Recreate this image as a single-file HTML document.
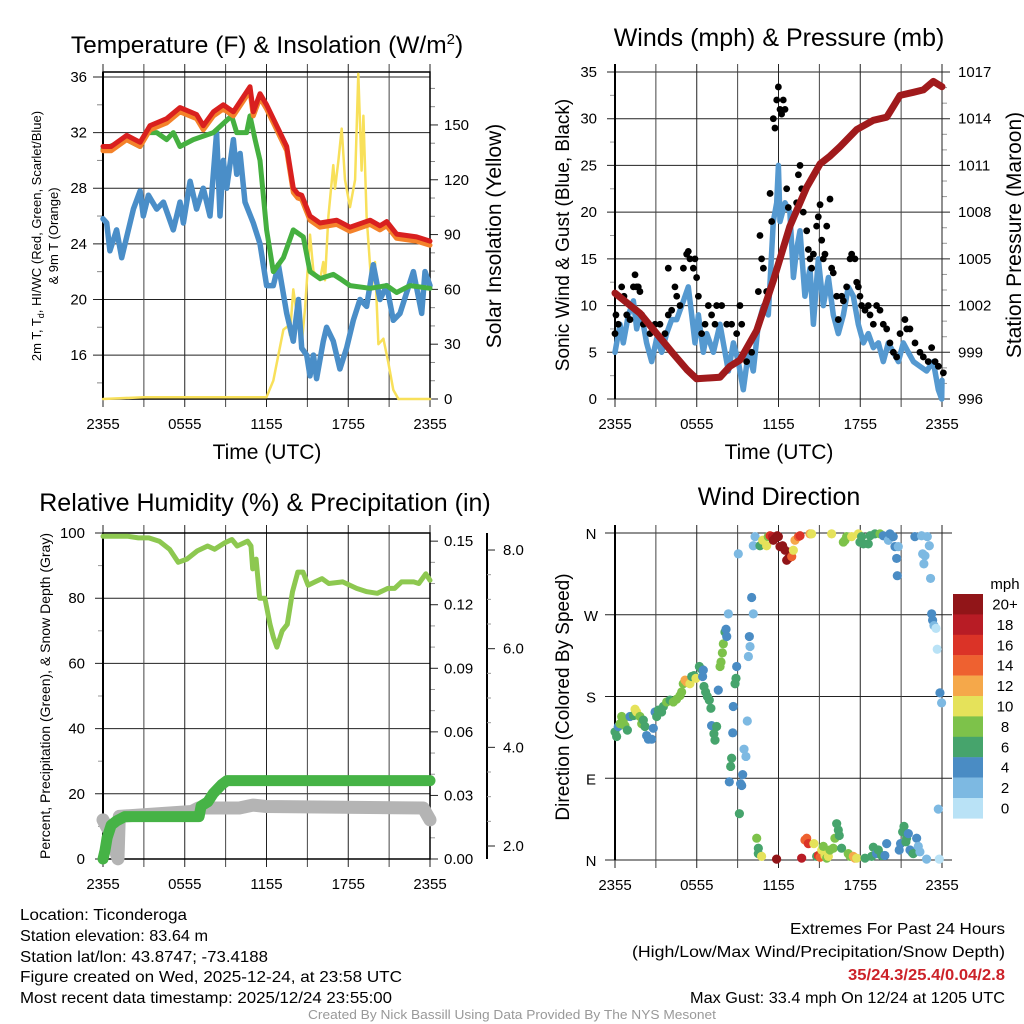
<!DOCTYPE html>
<html><head><meta charset="utf-8"><style>
body{margin:0;background:#fff}
svg{display:block;font-family:"Liberation Sans",Arial,sans-serif}
</style></head><body>
<svg id="c" width="1024" height="1024" viewBox="0 0 1024 1024" xmlns="http://www.w3.org/2000/svg">
<rect width="1024" height="1024" fill="#fff"/>
<!-- titles -->
<text x="267" y="53" font-size="24.5" text-anchor="middle">Temperature (F) &amp; Insolation (W/m<tspan dy="-9" font-size="15">2</tspan><tspan dy="9">)</tspan></text>
<text x="779" y="46" font-size="25" text-anchor="middle">Winds (mph) &amp; Pressure (mb)</text>
<text x="265" y="511" font-size="25" text-anchor="middle">Relative Humidity (%) &amp; Precipitation (in)</text>
<text x="779" y="505" font-size="25" text-anchor="middle">Wind Direction</text>
<!-- axis titles -->
<text x="267" y="459" font-size="21" text-anchor="middle">Time (UTC)</text>
<text x="779" y="459" font-size="21" text-anchor="middle">Time (UTC)</text>
<text transform="translate(41,236) rotate(-90)" font-size="13" text-anchor="middle">2m T, T<tspan dy="3" font-size="9">d</tspan><tspan dy="-3">, HI/WC (Red, Green, Scarlet/Blue)</tspan></text>
<text transform="translate(58,236) rotate(-90)" font-size="13" text-anchor="middle">&amp; 9m T (Orange)</text>
<text transform="translate(501,236) rotate(-90)" font-size="21" text-anchor="middle">Solar Insolation (Yellow)</text>
<text transform="translate(569,235) rotate(-90)" font-size="19" text-anchor="middle">Sonic Wind &amp; Gust (Blue, Black)</text>
<text transform="translate(1021,235) rotate(-90)" font-size="21" text-anchor="middle">Station Pressure (Maroon)</text>
<text transform="translate(50,696) rotate(-90)" font-size="14" text-anchor="middle">Percent, Precipitation (Green), &amp; Snow Depth (Gray)</text>
<text transform="translate(569,697) rotate(-90)" font-size="19" text-anchor="middle">Direction (Colored By Speed)</text>
<!-- footer -->
<g font-size="16">
<text x="20" y="920" textLength="167" lengthAdjust="spacingAndGlyphs">Location: Ticonderoga</text>
<text x="20" y="941" textLength="188" lengthAdjust="spacingAndGlyphs">Station elevation: 83.64 m</text>
<text x="20" y="962" textLength="248" lengthAdjust="spacingAndGlyphs">Station lat/lon: 43.8747; -73.4188</text>
<text x="20" y="982" textLength="382" lengthAdjust="spacingAndGlyphs">Figure created on Wed, 2025-12-24, at 23:58 UTC</text>
<text x="20" y="1003" textLength="372" lengthAdjust="spacingAndGlyphs">Most recent data timestamp: 2025/12/24 23:55:00</text>
</g>
<g font-size="16">
<text x="790" y="934" textLength="215" lengthAdjust="spacingAndGlyphs">Extremes For Past 24 Hours</text>
<text x="632" y="957" textLength="373" lengthAdjust="spacingAndGlyphs">(High/Low/Max Wind/Precipitation/Snow Depth)</text>
<text x="848" y="980" textLength="157" lengthAdjust="spacingAndGlyphs" fill="#cc2229" font-weight="bold">35/24.3/25.4/0.04/2.8</text>
<text x="690" y="1003" textLength="315" lengthAdjust="spacingAndGlyphs">Max Gust: 33.4 mph On 12/24 at 1205 UTC</text>
</g>
<text x="308" y="1019" font-size="13" fill="#999" textLength="408" lengthAdjust="spacingAndGlyphs">Created By Nick Bassill Using Data Provided By The NYS Mesonet</text>
<g id="g"></g>
</svg>
<script>
// ---------- Panel 1 data ----------
const timeTicks = ["2355","0555","1155","1755","2355"];
const tempTicks = [16,20,24,28,32,36];
const solarTicks = [0,30,60,90,120,150];
const tempT = [0,0.6,1.74,2.72,3.45,4.67,5.65,6.87,7.36,8.1,8.83,9.57,10.79,11.03,11.52,12.01,12.75,13.48,13.97,14.3,14.58,15.19,15.93,17.15,18.13,19.6,20.33,20.82,21.55,23.02,24];
const tempV = [31,31,31.8,31.3,32.5,33,33.8,33.3,32.5,33.5,34,33.5,35.3,33.5,34.8,34,32.5,31,28,27.6,27.5,26,25.5,25.7,25.2,25.7,25.3,25.6,24.7,24.5,24.2];
const greenT = [0,1.74,2.72,3.2,3.94,4.67,5.16,5.65,6.63,8.1,9.44,9.81,10.54,10.79,11.16,11.52,12.01,12.5,13.24,13.97,14.7,15.19,15.93,16.9,17.39,18.13,19.6,20.82,21.55,22.53,24];
const greenV = [30.8,31.5,31,32,32,31.5,32,31,31.5,32,33.2,32,32,33.2,31.5,30,25,22,23,25,24.5,22,21.5,21.8,21.5,21,20.8,21,20.5,21,20.8];
const dewT = [0,0.27,0.51,1.0,1.37,1.74,2.23,2.72,2.96,3.33,3.94,4.43,5.16,5.65,5.9,6.39,6.87,7.36,7.85,8.34,8.59,8.83,9.08,9.57,9.81,10.06,10.42,11.03,11.52,12.01,12.5,12.87,13.48,13.97,14.34,14.58,14.95,15.19,15.44,15.68,16.17,16.41,16.9,17.39,17.88,18.37,18.86,19.35,19.84,20.33,20.82,21.31,21.8,22.29,22.78,23.39,23.63,24];
const dewV = [25.8,25.5,23.5,25,23,24.5,26.5,27.8,26,27.5,26.5,27,25,27,25.5,28.5,26.5,28,26,32,26,30,28,31.5,29,30.5,27,25.5,24,21,21,22.5,19,17,20,16.5,16,14.5,16,14.3,17,18,17,15,16.5,18.5,20,19.5,22.5,20,21,18.5,19,20.5,22,19,22,21];
const solarT = [0,3,12,12.5,13.24,13.6,13.72,13.97,14.34,14.58,14.83,15.19,15.44,15.93,16.17,16.29,16.54,16.9,17.03,17.27,17.52,17.76,18.13,18.5,18.74,18.98,19.11,19.35,19.72,19.96,20.21,20.58,20.94,21.31,21.68,24];
const solarV = [0,1,1,10,38,40,35,60,40,30,50,90,70,65,75,65,100,128,115,130,148,120,105,120,178,125,155,100,60,75,30,33,20,5,0,0];
// ---------- Panel 2 data ----------
const windTicks = [0,5,10,15,20,25,30,35];
const presTicks = [996,999,1002,1005,1008,1011,1014,1017];
const windT = [0,0.37,0.61,0.98,1.35,1.59,1.83,2.08,2.32,2.69,3.06,3.43,3.79,4.16,4.53,5.02,5.38,5.63,5.87,6.12,6.48,6.73,7.22,7.71,8.07,8.32,8.69,9.05,9.42,9.79,10.15,10.52,10.89,11.25,11.62,11.87,11.99,12.11,12.48,12.84,13.09,13.33,13.58,13.94,14.31,14.56,14.92,15.29,15.66,16.02,16.39,16.76,17.12,17.49,17.86,18.23,18.59,18.96,19.33,19.69,20.06,20.43,20.8,21.16,21.53,21.9,22.38,22.87,23.36,23.73,23.98,24];
const windV = [5,8,6,9,10.5,7.5,9,8,6,4,6.5,5,7,8.5,8.5,10.5,12,9,6,9,5,7,5,8,5,3,6,4,1,5,3,8,10,9,19,21,25,19,21,20,13,16,18,11,14,8,15,10,13,9,7,9,12,11,8,6,7,5.5,6,4,6,5,4,6,5,4,3.5,3,4,1,0,2];
const gustT = [0,0.07,0.24,0.49,0.66,0.86,1.1,1.35,1.47,1.59,1.71,1.83,1.96,2.08,2.57,2.94,3.3,3.67,3.91,3.91,4.16,4.4,4.53,4.77,5.02,5.26,5.38,5.5,5.75,5.87,5.99,6.12,6.36,6.61,6.85,7.09,7.34,7.46,7.83,8.2,8.56,8.93,9.17,9.3,9.66,10.03,10.52,10.64,10.76,10.89,11.13,11.38,11.5,11.62,11.74,11.87,11.99,12.11,12.23,12.35,12.48,12.6,12.72,13.33,13.46,13.58,13.7,13.82,14.07,14.19,14.31,14.43,14.56,14.8,14.92,15.05,15.17,15.29,15.41,15.54,15.78,15.9,16.02,16.27,16.39,16.64,16.76,17.0,17.25,17.37,17.61,17.74,17.86,17.98,18.1,18.35,18.59,18.72,18.96,19.2,19.45,19.69,19.94,20.18,20.43,20.67,20.92,21.28,21.41,21.65,22.02,22.38,22.63,22.99,23.24,23.49,23.73,24.1];
const gustV = [7,9,8,12,11,9,8.5,12,13.3,12,12,11.5,9,8,7,8,8,7,14,9,9.5,12,11,10,14,15.5,15.8,15,14,15,13,11,7,8,10,9,8,10,10,8,8,7,10,8,4,5,11.5,17.5,15,14,11.5,22,19,30,29,32,33.4,31,30.5,32,31,22.5,20.5,21,24,25,22.5,20,18,16,15,14,15.5,18.5,19.5,20.8,17,15,15.5,18.5,21.4,14,13.5,11,8.5,11,10.5,12,15,15.5,15,12.5,12,11,10,9.5,10,9,8,10,9.5,8,7.5,6,5,4.5,7,8.5,7.5,7.5,6,5,4.5,4,5.5,4,3.5,2.8];
const presT = [0,1.84,3.06,4.28,5.26,5.99,7.71,8.44,9.17,10.4,11.62,12.84,14.07,15.05,15.78,16.51,17.74,18.96,19.94,20.43,20.92,21.9,22.63,23.36,24];
const presV = [1002.8,1001.5,1000.2,998.9,997.9,997.3,997.4,998.1,998.5,1000.4,1003.6,1007.1,1009.6,1011.1,1011.6,1012.2,1013.3,1013.9,1014.1,1014.8,1015.5,1015.7,1015.85,1016.4,1016.06];
// ---------- Panel 3 data ----------
const rhTicks = [0,20,40,60,80,100];
const precipTicks = ["0.00","0.03","0.06","0.09","0.12","0.15"];
const snowTicks = ["2.0","4.0","6.0","8.0"];
const rhT = [0,1.84,2.6,3.36,4.13,4.89,5.52,6.16,6.92,7.68,8.19,8.95,9.46,9.85,10.61,10.86,10.99,11.24,11.5,11.88,12.26,12.51,12.76,13.15,13.53,13.91,14.3,14.68,15.05,15.56,16.07,16.57,17.59,18.61,19.37,20.13,20.9,21.4,21.91,22.8,23.18,23.69,24];
const rhV = [99,99,98.5,98.5,97.5,95,91,92,94.5,96,95,97,98,96,97.5,96,89,92,80,80,72,68,65,70,72,82,88,88,84,85,86,84.5,85,83,82,81.5,83,83,85,85,84.5,87.5,85.5];
const precipT = [0,0.15,0.3,0.6,1.0,1.6,7.05,7.2,7.7,8.1,8.7,9.1,24];
const precipV = [0,0.004,0.01,0.016,0.018,0.02,0.02,0.025,0.027,0.031,0.035,0.037,0.037];
const snowT = [0,0.5,1.1,1.2,6.5,7.0,10,11,12,23.5,24];
const snowV = [2.53,2.27,1.74,2.6,2.7,2.77,2.77,2.83,2.8,2.77,2.53];
// ---------- Panel 4 data ----------
const dirTicks = ["N","E","S","W","N"];
const speedBins = ["0","2","4","6","8","10","12","14","16","18","20+"];
const dirT = [0,0.12,0.24,0.37,0.49,0.61,0.73,0.91,1.1,1.35,1.47,1.59,1.83,1.96,2.08,2.2,2.32,2.45,2.69,2.81,2.94,3.06,3.18,3.42,3.55,3.79,4.04,4.28,4.52,4.77,4.89,5.01,5.14,5.26,5.5,5.63,5.8,5.94,6.19,6.36,6.48,6.43,6.53,6.65,6.78,6.92,7.04,7.09,7.26,7.34,7.46,7.58,7.71,7.78,7.88,7.95,8.07,8.2,8.15,8.32,8.39,8.49,8.56,8.64,8.68,8.81,8.88,8.93,9.05,9.13,9.22,9.3,9.37,9.47,9.61,9.71,9.79,9.91,9.86,10.03,10.15,10.15,10.28,10.4,10.52,10.64,10.52,10.76,10.84,11.13,11.25,11.38,11.57,11.62,11.74,11.86,11.91,11.99,12.11,12.3,12.48,12.6,12.72,12.84,12.97,13.09,13.21,13.46,13.58,13.7,13.94,14.07,14.19,14.31,14.43,14.6,14.8,14.92,15.05,15.17,15.29,15.41,15.54,15.66,15.78,15.9,16.02,16.14,16.27,16.39,16.46,16.63,16.76,16.88,17.0,17.12,17.25,17.37,17.49,17.61,17.74,17.86,17.98,18.1,18.23,18.35,18.59,18.72,18.84,18.96,19.08,19.2,19.33,19.45,19.57,19.69,19.81,19.94,20.06,20.18,20.42,20.55,20.67,20.72,20.79,20.86,20.96,21.11,21.21,21.35,21.4,21.53,21.65,21.77,21.89,22.01,22.14,22.26,22.38,22.5,22.58,22.67,22.75,22.87,22.92,23.07,23.16,23.24,23.31,23.41,23.56,23.65,23.73,23.8,23.85,23.97];
const dirV = [141,136,147,150,158,154,148,143,158,159,166,163,158,150,154,147,137,133,133,145,163,158,165,163,169,174,176,174,177,181,185,194,198,196,194,202,203,200,213,210,209,202,191,185,180,176,167,148,139,132,147,187,213,218,228,238,251,246,254,271,86,103,112,140,169,194,200,213,337,51,84,82,94,122,114,153,224,235,246,289,271,346,356,24,13,346,7,4,352,346,356,357,356,352,354,1,357,356,345,346,341,330,332,339,334,341,352,356,357,2,22,24,18,359,359,18,4,5,3,11,15,5,2,4,11,359,13,24,40,33,27,13,350,352,356,7,4,356,4,2,2,359,350,356,348,2,348,357,4,14,359,7,11,359,5,357,5,18,352,359,356,345,332,313,345,11,18,31,37,20,24,29,11,9,7,356,24,15,9,357,337,326,335,1,356,346,310,271,264,258,255,232,56,1,184,173];
const dirSpd = [6,6,5,8,8,8,8,6,4,6,10,10,8,8,6,6,4,4,4,4,4,6,6,6,6,8,6,8,8,8,8,8,12,12,10,6,6,10,6,6,4,4,6,6,6,6,6,4,6,6,6,4,8,8,8,8,6,4,4,2,4,6,6,4,4,6,6,4,2,6,4,4,4,2,2,2,2,2,4,4,2,2,2,8,6,6,6,10,10,10,8,16,18,20,20,20,20,20,20,20,20,20,20,20,14,10,12,14,16,18,14,14,16,12,10,10,6,16,14,10,8,10,8,10,8,10,8,8,6,6,6,6,8,8,8,8,8,10,12,12,10,10,6,6,6,6,6,6,6,6,6,4,6,8,6,4,4,4,2,4,4,4,4,4,2,4,4,6,6,6,6,4,4,4,6,4,4,2,2,2,2,2,2,2,2,2,2,4,4,2,0,0,2,0,4];
const binColors = ["#b9e2f6","#7db9e2","#4a8cc4","#46a46c","#7dc24a","#e5e25a","#f5a84a","#ee6130","#db3327","#b81c25","#911518"];

const NS="http://www.w3.org/2000/svg";
const G=document.getElementById('g');
function mk(tag,attrs,parent){const e=document.createElementNS(NS,tag);for(const k in attrs)e.setAttribute(k,attrs[k]);(parent||G).appendChild(e);return e;}
function line(x1,y1,x2,y2,stroke,w,p){return mk('line',{x1:x1,y1:y1,x2:x2,y2:y2,stroke:stroke,'stroke-width':w},p);}
function txt(x,y,s,size,anchor,p){const e=mk('text',{x:x,y:y,'font-size':size,'text-anchor':anchor||'middle'},p);e.textContent=s;return e;}

const P1={L:103,R:430,T:72,B:399}, P2={L:615,R:942,T:72,B:399}, P3={L:103,R:430,T:533,B:859}, P4={L:615,R:942,T:533,B:860};
const xOf=(P,t)=>P.L+t/24*(P.R-P.L);
const yTemp=v=>399-(v-12.84)/(36.36-12.84)*327;
const ySolar=v=>399-v*1.827;
const yWind=v=>399-v*9.343;
const yPres=v=>399-(v-996)*15.57;
const yRH=v=>859-v*3.26;
const yPrecip=v=>859-v*650*3.26;
const ySnow=v=>846-(v-2)*49.33;
const yDir=v=>860-v/360*327;

function timeAxis(P,prefix){
  const g=mk('g',{});
  
  
  for(let i=0;i<=8;i++){const x=P.L+i*(P.R-P.L)/8;line(x,P.T-8,x,P.B+8,i%2?'#444':'#222',1,g);}
  timeTicks.forEach((s,i)=>{const t=txt(P.L+i*(P.R-P.L)/4,P.B+30,s,15,'middle',g);
    
    });
}
function poly(P,T,V,yf,color,w,name){
  const d=T.map((t,i)=>(i?'L':'M')+xOf(P,t).toFixed(1)+' '+yf(V[i]).toFixed(1)).join(' ');
  const e=mk('path',{d:d,fill:'none',stroke:color,'stroke-width':w,'stroke-linejoin':'round','stroke-linecap':'round'});
  
  
  return e;
}

// ===== Panel 1 =====
tempTicks.forEach(v=>{const y=yTemp(v);line(P1.L-10,y,P1.R,y,'#222',1);
  const t=txt(P1.L-16,y+5,String(v),15,'end');
  
  });
for(let v=14;v<=34;v+=4){line(P1.L-6,yTemp(v),P1.L,yTemp(v),'#888',1);}
solarTicks.forEach(v=>{const y=ySolar(v);line(P1.R,y,P1.R+8,y,'#222',1);
  const t=txt(P1.R+14,y+5,String(v),15,'start');
  
  });
for(let v=10;v<=170;v+=10){if(v%30)line(P1.R,ySolar(v),P1.R+5,ySolar(v),'#888',1);}
timeAxis(P1,'temp');
mk('rect',{x:P1.L,y:P1.T,width:P1.R-P1.L,height:P1.B-P1.T,fill:'none',stroke:'#000','stroke-width':1.5});
line(P1.L,P1.T,P1.L,P1.B,'#000',2);
poly(P1,solarT,solarV,ySolar,'#f8e05a',2.5,'solar-insolation-line');
poly(P1,dewT,dewV,yTemp,'#4a8ec8',5.5,'dewpoint-line');
poly(P1,greenT,greenV,yTemp,'#45b040',5,'windchill-line');
poly(P1,tempT,tempV.map(v=>v-0.3),yTemp,'#f4822a',5,'temp-9m-line');
poly(P1,tempT,tempV,yTemp,'#d9201f',5,'temp-2m-line');

// ===== Panel 2 =====
windTicks.forEach(v=>{const y=yWind(v);line(P2.L-8,y,P2.R+8,y,'#222',1);
  const t=txt(P2.L-18,y+5,String(v),15,'end');
  
  });
for(let v=2.5;v<35;v+=5){line(P2.L-5,yWind(v),P2.L,yWind(v),'#999',1);}
presTicks.forEach(v=>{const t=txt(P2.R+16,yPres(v)+5,String(v),15,'start');
  
  });
for(let v=997;v<1017;v++){if((v-996)%3)line(P2.R,yPres(v),P2.R+5,yPres(v),'#999',1);}
timeAxis(P2,'wind');
line(P2.L,P2.T-8,P2.L,P2.B,'#000',2);
poly(P2,windT,windV,yWind,'#5599d0',5.5,'sonic-wind-line');
const gg=mk('g',{});


gustT.forEach((t,i)=>{if(gustV[i]===undefined)return;const c=mk('circle',{cx:xOf(P2,t),cy:yWind(gustV[i]),r:3.4,fill:'#000'},gg);
  
  });
poly(P2,presT,presV,yPres,'#a01a1c',7,'pressure-line');

// ===== Panel 3 =====
rhTicks.forEach(v=>{const y=yRH(v);line(P3.L-8,y,P3.R,y,'#222',1);
  const t=txt(P3.L-18,y+5,String(v),15,'end');
  
  });
for(let v=10;v<100;v+=20){line(P3.L-5,yRH(v),P3.L,yRH(v),'#999',1);}
precipTicks.forEach((s,i)=>{const y=yPrecip(i*0.03);line(P3.R,y,P3.R+8,y,'#222',1);
  const t=txt(P3.R+14,y+5,s,15,'start');
  
  });
for(let v=0.01;v<0.15;v+=0.01){if(Math.round(v*100)%3)line(P3.R,yPrecip(v),P3.R+5,yPrecip(v),'#999',1);}
line(487,P3.T,487,P3.B,'#000',2);
snowTicks.forEach((s,i)=>{const y=ySnow(2+2*i);line(487,y,495,y,'#222',1);
  const t=txt(503,y+5,s,15,'start');
  
  });
for(let v=2.5;v<8.5;v+=0.5){if(v%2)line(487,ySnow(v),491,ySnow(v),'#999',1);}
timeAxis(P3,'rh');
mk('rect',{x:P3.L,y:P3.T,width:P3.R-P3.L,height:P3.B-P3.T,fill:'none',stroke:'#000','stroke-width':1.5});
line(P3.L,P3.T,P3.L,P3.B,'#000',2);
poly(P3,rhT,rhV,yRH,'#8dc850',5,'relative-humidity-line');
poly(P3,snowT,snowV,ySnow,'#b4b4b4',13,'snow-depth-line');
poly(P3,precipT,precipV,yPrecip,'#46b346',11,'precipitation-line');

// ===== Panel 4 =====
dirTicks.forEach((s,i)=>{const y=yDir(i*90);line(P4.L-10,y,P4.R+10,y,'#222',1);
  const t=txt(P4.L-24,y+6,s,15,'middle');
  
  });
timeAxis(P4,'dir');
line(P4.L,P4.T-8,P4.L,P4.B,'#000',2);
const dg=mk('g',{});


dirT.forEach((t,i)=>{const sp=(dirSpd[i]===undefined)?2:dirSpd[i];const b=Math.min(10,Math.floor(sp/2));
  if(dirV[i]===undefined)return;
  const c=mk('circle',{cx:xOf(P4,t),cy:yDir(dirV[i]),r:4.6,fill:binColors[b]},dg);
  
  });
// colorbar
const cb=mk('g',{});


const cbt=txt(1005,589,'mph',15,'middle',cb);


speedBins.forEach((s,i)=>{const k=10-i;const y=594+i*20.4;
  const r=mk('rect',{x:953,y:y,width:30,height:20.6,fill:binColors[k]},cb);
  
  
  const t=txt(1005,y+15.5,speedBins[k],15,'middle',cb);
  
  });
</script>
</body></html>
